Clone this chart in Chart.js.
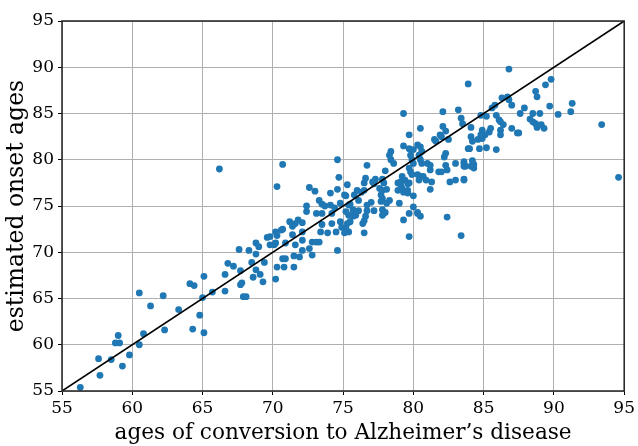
<!DOCTYPE html>
<html>
<head>
<meta charset="utf-8">
<script src="https://cdn.jsdelivr.net/npm/chart.js@4"></script>
<style>
html,body{margin:0;padding:0;background:#fff;}
#wrap{width:638px;height:446px;}
</style>
</head>
<body>
<div id="wrap"><canvas id="c" width="638" height="446"></canvas></div>
<script>
const xLabel = "ages of conversion to Alzheimer’s disease";
const yLabel = "estimated onset ages";
const tickValues = [55, 60, 65, 70, 75, 80, 85, 90, 95];

const conversionAges = [
56.3,57.7,57.6,58.5,59.3,59.8,58.8,59.1,59.0,60.5,60.8,62.3,60.5,61.3,62.2,63.3,64.3,64.1,64.4,64.8,65.1,
65.0,65.7,65.1,66.6,66.6,66.8,67.2,67.7,67.6,68.3,67.8,67.7,67.9,68.1,68.5,68.8,69.1,68.6,69.3,68.8,68.8,69.0,69.6,69.8,69.4,70.1,70.3,70.2,70.3,
66.2,70.7,70.3,71.2,70.7,71.6,71.8,
74.7,74.6,72.6,73.0,74.1,74.6,75.3,75.2,73.3,73.5,73.7,74.1,74.4,74.8,75.5,76.0,72.4,72.4,73.1,73.5,74.2,75.4,75.9,72.1,71.4,73.5,74.2,74.8,75.3,75.2,75.4,73.4,73.9,74.5,70.2,70.6,69.8,72.1,71.4,72.1,70.2,70.9,71.6,72.1,72.6,72.8,73.1,73.3,74.6,70.7,70.9,71.5,71.9,72.8,70.8,71.5,
79.3,79.7,80.0,78.4,78.3,79.8,79.9,78.4,78.6,79.7,79.8,79.9,76.7,78.0,77.3,77.1,77.2,77.8,77.9,78.9,79.1,79.7,76.6,76.5,75.1,77.6,77.8,78.1,76.3,76.5,78.9,79.3,79.6,75.8,77.7,77.8,77.7,78.3,78.1,79.0,77.0,76.7,76.1,75.4,75.2,75.7,76.1,76.7,77.2,77.8,78.0,77.8,79.7,80.3,75.7,76.6,76.5,76.4,75.5,79.3,74.9,75.1,76.5,79.7,
79.3,82.1,83.2,83.4,83.5,82.1,82.3,80.5,79.7,81.9,82.0,81.5,81.6,82.5,84.1,84.2,84.0,80.3,80.5,80.6,82.3,82.2,80.4,80.5,80.6,81.0,81.2,81.2,83.0,83.6,83.6,84.3,84.3,82.3,82.4,81.8,82.0,80.0,79.2,79.4,79.1,80.3,80.5,80.7,80.9,80.4,81.3,81.2,82.6,83.0,83.6,79.6,79.2,80.0,79.6,80.3,80.5,82.4,80.0,
83.9,86.3,86.7,86.8,87.0,85.8,85.6,88.7,88.8,87.6,87.9,88.5,88.3,88.5,88.8,84.8,85.2,85.9,86.1,86.2,86.4,84.1,84.9,85.1,84.9,84.8,85.5,85.4,86.2,86.2,87.0,87.4,84.6,83.9,84.7,85.2,85.9,83.6,83.7,84.2,84.1,83.6,
89.8,89.4,89.7,91.3,91.2,90.3,89.0,88.7,89.1,89.3,87.5,
93.4,94.6,86.8,83.4
];
const estimatedAges = [
55.4,56.7,58.5,58.4,57.7,58.9,60.2,60.2,61.0,60.0,61.2,61.6,65.6,64.2,65.3,63.8,61.7,66.6,66.4,63.2,61.3,
65.1,65.7,67.4,65.8,67.6,68.8,68.5,68.0,70.3,70.2,66.7,66.5,65.2,65.2,68.9,68.1,67.6,67.3,66.8,69.8,71.0,70.6,71.6,70.8,68.9,70.8,71.8,67.1,68.4,
79.0,79.5,77.1,73.3,72.5,73.1,73.5,
78.1,80.0,77.0,76.6,76.4,76.8,77.3,76.1,75.6,75.2,75.0,75.1,74.8,75.3,75.2,76.7,75.0,74.4,74.2,74.2,74.2,74.0,74.0,73.2,72.8,73.0,73.1,73.3,73.1,72.6,72.2,72.2,72.1,72.2,72.2,72.4,71.7,72.2,71.9,71.3,71.0,71.0,70.8,70.2,70.4,71.1,71.1,71.1,70.2,69.3,69.3,69.6,69.5,69.7,68.4,68.4,
81.5,81.2,81.1,80.9,80.5,80.5,80.0,80.0,79.6,79.1,78.7,78.4,79.4,78.8,77.9,77.6,77.4,77.9,77.5,77.5,77.3,77.5,78.0,77.5,76.2,76.9,76.7,76.8,76.5,76.7,76.7,76.5,76.4,76.2,76.2,75.8,75.5,75.6,75.3,75.3,75.4,75.1,75.6,75.1,74.4,74.6,74.5,74.5,74.5,74.6,74.3,74.0,74.2,74.3,73.9,73.9,73.4,73.1,73.3,73.5,72.7,72.1,72.1,71.7,
85.0,85.2,85.4,84.5,83.9,83.6,83.1,83.4,82.7,82.7,82.5,82.2,82.0,82.2,82.5,82.0,81.2,81.6,81.4,80.9,80.7,80.3,80.5,80.0,79.6,79.6,79.4,78.9,79.6,79.6,79.3,79.5,79.1,79.4,78.9,78.7,78.7,79.6,78.2,77.8,77.6,78.4,78.2,78.2,77.8,77.8,77.6,76.8,77.6,77.8,77.8,76.7,76.9,76.1,77.4,74.2,73.9,73.8,74.9,
88.2,86.7,86.8,86.5,85.9,85.9,85.6,87.4,86.8,85.0,85.6,85.0,84.4,84.1,83.5,84.8,84.7,84.8,84.3,84.1,83.8,83.5,83.2,82.7,82.3,82.7,83.4,83.0,83.2,82.7,83.4,82.9,82.2,81.2,81.2,81.3,81.1,79.8,79.3,79.9,79.3,77.9,
88.7,88.1,85.8,86.1,85.2,84.9,85.0,83.9,83.8,83.4,82.9,
83.8,78.1,89.8,71.8
];
const identityLine = [55, 95];

const points = conversionAges.map((x, i) => ({x: x, y: estimatedAges[i]}));
const diag = identityLine.map(v => ({x: v, y: v}));

const serif = "'DejaVu Serif', 'Liberation Serif', serif";

const framePlugin = {
  id: 'frame',
  afterDraw(chart) {
    const a = chart.chartArea, ctx = chart.ctx;
    ctx.save();
    ctx.strokeStyle = '#222';
    ctx.lineWidth = 1.5;
    ctx.strokeRect(a.left, a.top, a.right - a.left, a.bottom - a.top);
    ctx.restore();
  }
};

new Chart(document.getElementById('c'), {
  type: 'scatter',
  data: {
    datasets: [
      {
        type: 'line',
        data: diag,
        borderColor: '#000',
        borderWidth: 1.6,
        pointRadius: 0,
        fill: false,
        order: 0
      },
      {
        data: points,
        backgroundColor: '#1f77b4',
        borderWidth: 0,
        pointRadius: 3.4,
        order: 1
      }
    ]
  },
  options: {
    responsive: false,
    animation: false,
    devicePixelRatio: 1,
    layout: {padding: {top: 21, right: 12, left: 0, bottom: 0}},
    plugins: {legend: {display: false}, tooltip: {enabled: false}},
    scales: {
      x: {
        type: 'linear', min: 55, max: 95,
        afterBuildTicks: s => { s.ticks = tickValues.map(v => ({value: v})); },
        afterFit: s => { s.height = 55; },
        grid: {color: '#b0b0b0', lineWidth: 1, drawTicks: true, tickLength: 4, tickColor: '#000'},
        border: {display: false},
        ticks: {color: '#000', font: {family: serif, size: 17}, padding: 3, maxRotation: 0},
        title: {display: true, text: xLabel, color: '#000', font: {family: serif, size: 21.6}, padding: {top: 0, bottom: 0}}
      },
      y: {
        type: 'linear', min: 55, max: 95,
        afterBuildTicks: s => { s.ticks = tickValues.map(v => ({value: v})); },
        afterFit: s => { s.width = 62; },
        grid: {color: '#b0b0b0', lineWidth: 1, drawTicks: true, tickLength: 4, tickColor: '#000'},
        border: {display: false},
        ticks: {color: '#000', font: {family: serif, size: 17}, padding: 4},
        title: {display: true, text: yLabel, color: '#000', font: {family: serif, size: 23.5}, padding: {top: 3, bottom: 0}}
      }
    }
  },
  plugins: [framePlugin]
});
</script>
</body>
</html>
